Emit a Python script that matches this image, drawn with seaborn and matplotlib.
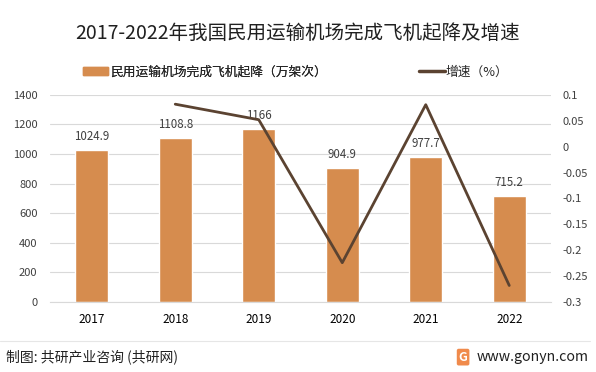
import numpy as np
import pandas as pd
import seaborn as sns
import matplotlib.pyplot as plt
from matplotlib.lines import Line2D
from matplotlib.patches import Patch

# chart data
years = ["2017", "2018", "2019", "2020", "2021", "2022"]
flights = [1024.9, 1108.8, 1166, 904.9, 977.7, 715.2]
flight_labels = ["1024.9", "1108.8", "1166", "904.9", "977.7", "715.2"]
growth_years = ["2018", "2019", "2020", "2021", "2022"]
growth = [0.082, 0.052, -0.224, 0.081, -0.268]

sns.set_style("white")
plt.rcParams['font.family'] = ['Noto Sans CJK SC', 'DejaVu Sans']

bar_color = "#D68C4E"
line_color = "#5B4331"

df = pd.DataFrame({"year": years, "flights": flights})

fig = plt.figure(figsize=(5.96, 3.72), dpi=100)
ax = fig.add_axes([0.0839, 0.188, 0.8406, 0.557])

sns.barplot(data=df, x="year", y="flights", color=bar_color, width=0.4,
            saturation=1, ax=ax, zorder=2)
ax.set_ylim(0, 1400)
ax.set_yticks(np.arange(0, 1401, 200))
ax.set_xlim(-0.5, 5.5)
ax.set_xlabel("")
ax.set_ylabel("")
ax.grid(axis="y", color="#D9D9D9", linewidth=0.8, zorder=0)
ax.set_axisbelow(True)
for s in ["top", "right", "left"]:
    ax.spines[s].set_visible(False)
ax.spines["bottom"].set_color("#D9D9D9")
ax.tick_params(axis="y", length=0, labelsize=8, labelcolor="#404040", pad=9)
ax.tick_params(axis="x", length=0, labelsize=8.5, labelcolor="#000000", pad=8)

for i, (v, t) in enumerate(zip(flights, flight_labels)):
    ax.text(i, v + 50, t, ha="center", va="bottom", fontsize=8.3, color="#404040")

ax2 = ax.twinx()
gx = [years.index(y) for y in growth_years]
sns.lineplot(x=gx, y=growth, color=line_color, linewidth=2, ax=ax2)
ax2.set_ylim(-0.3, 0.1)
ax2.set_yticks(np.arange(-0.3, 0.101, 0.05))
ax2.set_yticklabels(["-0.3", "-0.25", "-0.2", "-0.15", "-0.1", "-0.05", "0", "0.05", "0.1"])
ax2.set_xlim(-0.5, 5.5)
for s in ax2.spines.values():
    s.set_visible(False)
ax2.tick_params(axis="y", length=0, labelsize=8, labelcolor="#404040", pad=8)

fig.text(0.5, 0.91, "2017-2022年我国民用运输机场完成飞机起降及增速", ha="center",
         va="center", fontsize=14, color="#202020")

leg1 = fig.legend(handles=[Patch(color=bar_color, label="民用运输机场完成飞机起降（万架次）")],
                  loc="center left", bbox_to_anchor=(0.14, 0.806), frameon=False,
                  fontsize=9.2, handlelength=1.9, handleheight=0.55,
                  handletextpad=0.2, borderpad=0, borderaxespad=0)
fig.add_artist(leg1)
fig.legend(handles=[Line2D([0], [0], color=line_color, linewidth=2.5, label="增速（%）")],
           loc="center left", bbox_to_anchor=(0.703, 0.806), frameon=False,
           fontsize=9.2, handlelength=2.0, handletextpad=0.1, borderpad=0,
           borderaxespad=0)

fig.add_artist(Line2D([0, 0.99], [0.083, 0.083], color="#E6E6E6", linewidth=0.8,
                      transform=fig.transFigure))
fig.text(0.01, 0.04, "制图: 共研产业咨询 (共研网)", ha="left", va="center",
         fontsize=10, color="#202020")
fig.text(0.988, 0.04, "www.gonyn.com", ha="right", va="center",
         fontsize=10.2, color="#202020")
fig.text(0.777, 0.04, "G", ha="center", va="center", fontsize=9,
         color="white", fontweight="bold",
         bbox=dict(boxstyle="round,pad=0.15", fc="#F08A4B", ec="none"))

fig.savefig("out.png", dpi=100)
